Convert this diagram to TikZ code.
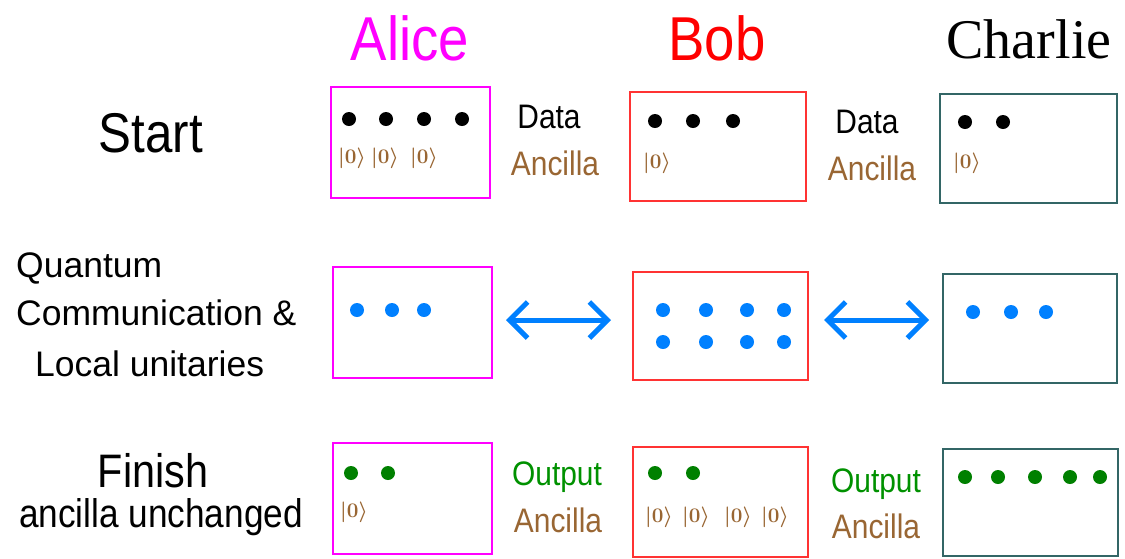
\documentclass[tikz,border=0pt]{standalone}
\usepackage{bm}
\usepackage{fontspec}
\setmainfont{Liberation Sans}
\newfontfamily\narrowsf{Liberation Sans}[FakeStretch=0.88]
\newfontfamily\serifrm{Liberation Serif}
\usetikzlibrary{arrows.meta}
\newcommand{\DOT}{7pt}
\newcommand{\zket}{$\bm{|0\rangle}$}
\definecolor{qalice}{RGB}{255,0,255}
\definecolor{qbob}{RGB}{255,0,0}
\definecolor{qbobbox}{RGB}{255,51,51}
\definecolor{qcharlie}{RGB}{51,102,102}
\definecolor{qblue}{RGB}{0,128,255}
\definecolor{qgreen}{RGB}{0,128,0}
\definecolor{qout}{RGB}{0,145,0}
\definecolor{qbrown}{RGB}{153,102,51}

\begin{document}
\begin{tikzpicture}[
    x=1pt, y=-1pt,
    party/.style={anchor=base, inner sep=0pt, font=\narrowsf\fontsize{62}{62}\selectfont},
    stage/.style={anchor=base, inner sep=0pt, font=\narrowsf\fontsize{56}{56}\selectfont},
    small/.style={anchor=base west, inner sep=0pt, font=\fontsize{35.5}{35.5}\selectfont},
    role/.style={anchor=base, inner sep=0pt, font=\narrowsf\fontsize{34}{34}\selectfont},
    ket/.style={inner sep=0pt, text=qbrown, font=\fontsize{21}{21}\selectfont},
    lab/.style={draw=#1, line width=2pt, fill=white, inner sep=0pt},
    swap/.style={draw=qblue, line width=5pt, {Straight Barb[length=18pt,width=36pt]}-{Straight Barb[length=18pt,width=36pt]}},
  ]
  \useasboundingbox (0,0) rectangle (1125,558);

  %% ================= names of the three parties =================
  \node[party, text=qalice] (alice) at (410,60) {Alice};
  \node[party, text=qbob]   (bob)   at (717,60) {Bob};
  \node[anchor=base, inner sep=0pt, font=\serifrm\fontsize{56}{56}\selectfont] (charlie) at (1029,58) {Charlie};

  %% ================= the three stages, left column =================
  \node[stage] (start) at (151,152) {Start};
  \node[small] (quantum) at (16,277) {Quantum};
  \node[small] (comm)    at (16,325) {Communication \&};
  \node[small] (local)   at (35,376) {Local unitaries};
  \node[stage, font=\narrowsf\fontsize{47}{47}\selectfont] (finish) at (153,487) {Finish};
  \node[stage, font=\narrowsf\fontsize{40}{40}\selectfont] (unchanged) at (161,527) {ancilla unchanged};

  %% ================= the labs, one box per party and stage =================
  \node[lab=qalice,   minimum width=159pt, minimum height=111pt] (alice1)   at (410.5,142.5) {};
  \node[lab=qbobbox,  minimum width=176pt, minimum height=109pt] (bob1)     at (718,146.5) {};
  \node[lab=qcharlie, minimum width=177pt, minimum height=109pt] (charlie1) at (1028.5,148.5) {};
  \node[lab=qalice,   minimum width=159pt, minimum height=111pt] (alice2)   at (412.5,322.5) {};
  \node[lab=qbobbox,  minimum width=175pt, minimum height=108pt] (bob2)     at (720.5,326) {};
  \node[lab=qcharlie, minimum width=174pt, minimum height=109pt] (charlie2) at (1030,328.5) {};
  \node[lab=qalice,   minimum width=159pt, minimum height=111pt] (alice3)   at (412.5,498.5) {};
  \node[lab=qbobbox,  minimum width=175pt, minimum height=110pt] (bob3)     at (720.5,502) {};
  \node[lab=qcharlie, minimum width=175pt, minimum height=107pt] (charlie3) at (1030.5,502.5) {};

  % start: data qubits and fresh ancillas
  \foreach \x in {349,386,424,462} { \fill[black] (\x,119) circle (\DOT); }
  \foreach \x in {655,693,733}     { \fill[black] (\x,121) circle (\DOT); }
  \foreach \x in {965,1003}        { \fill[black] (\x,122) circle (\DOT); }
  \node[ket] (ka1) at (352,158) {\zket};
  \node[ket] (ka2) at (385,158) {\zket};
  \node[ket] (ka3) at (424,158) {\zket};
  \node[ket] (kb1) at (657,163) {\zket};
  \node[ket] (kc1) at (967,163) {\zket};

  \node[role]              (data1)    at (549,128) {Data};
  \node[role, text=qbrown] (ancilla1) at (555,175) {Ancilla};
  \node[role]              (data2)    at (867,133) {Data};
  \node[role, text=qbrown] (ancilla2) at (872,180) {Ancilla};

  % middle: qubits sent around and acted on
  \foreach \x in {357,392,424}      { \fill[qblue] (\x,310) circle (\DOT); }
  \foreach \x in {663,706,747,784}  { \fill[qblue] (\x,310) circle (\DOT);
                                      \fill[qblue] (\x,342) circle (\DOT); }
  \foreach \x in {973,1011,1046}    { \fill[qblue] (\x,312) circle (\DOT); }
  \draw[swap, shorten <=13pt, shorten >=21pt] ([yshift=2.5pt]alice2.east) -- ([yshift=2.5pt]alice2.east -| bob2.west);
  \draw[swap, shorten <=15pt, shorten >=13pt] ([yshift=6pt]bob2.east) -- ([yshift=6pt]bob2.east -| charlie2.west);

  % finish: outputs, ancillas given back unchanged
  \foreach \x in {351,388}                 { \fill[qgreen] (\x,473) circle (\DOT); }
  \foreach \x in {655,693}                 { \fill[qgreen] (\x,473) circle (\DOT); }
  \foreach \x in {965,998,1035,1070,1100}  { \fill[qgreen] (\x,477) circle (\DOT); }
  \node[ket] (ka4) at (354,512) {\zket};
  \node[ket] (kb2) at (659,517) {\zket};
  \node[ket] (kb3) at (696,517) {\zket};
  \node[ket] (kb4) at (738,517) {\zket};
  \node[ket] (kb5) at (775,517) {\zket};

  \node[role, text=qout]   (output1)  at (557,485) {Output};
  \node[role, text=qbrown] (ancilla3) at (558,532) {Ancilla};
  \node[role, text=qout]   (output2)  at (876,492) {Output};
  \node[role, text=qbrown] (ancilla4) at (876,538) {Ancilla};

\end{tikzpicture}
\end{document}
